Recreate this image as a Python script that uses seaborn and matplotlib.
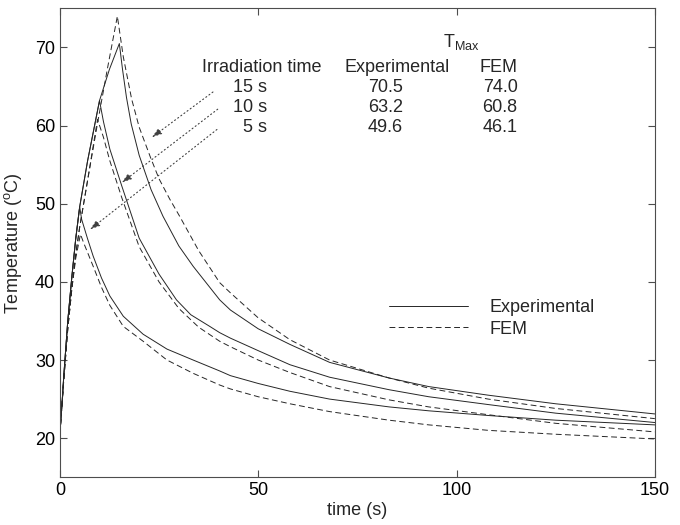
import matplotlib
matplotlib.use("Agg")
import matplotlib.pyplot as plt
import seaborn as sns
import pandas as pd

# experimental curves (time in s, temperature in oC)
t_exp15 = [0, 0.5, 1, 2, 3, 4, 5, 7, 10, 12.5, 15, 15.8, 16.8, 18, 20, 23, 26, 30, 33.6, 40.3, 43, 50, 58, 68, 83, 93, 108, 125, 150]
T_exp15 = [20.5, 24, 28, 35, 40.5, 45.5, 49.6, 55.5, 63.2, 67.2, 70.5, 67.2, 63.6, 60.2, 56.2, 51.8, 48.4, 44.6, 42.0, 37.7, 36.4, 34.0, 32.0, 29.7, 27.7, 26.6, 25.5, 24.4, 23.1]

t_exp10 = [0, 0.5, 1, 2, 3, 4, 5, 7, 10, 11, 12.6, 15.6, 20, 25, 29.4, 33, 37.8, 40.3, 43, 50, 58, 68, 83, 93, 108, 125, 150]
T_exp10 = [20.5, 24, 28, 35, 40.5, 45.5, 49.6, 55.5, 63.2, 60.5, 57.0, 52.3, 45.6, 41.0, 37.7, 35.8, 34.3, 33.5, 32.8, 31.2, 29.4, 27.8, 26.2, 25.3, 24.3, 23.2, 22.0]

t_exp5 = [0, 0.5, 1, 2, 3, 4, 5, 5.5, 7, 8.4, 10.5, 12.6, 16, 21, 27, 33.6, 40.3, 43, 50, 58, 68, 83, 93, 108, 125, 150]
T_exp5 = [20.5, 24, 28, 35, 40.5, 45.5, 49.6, 48.0, 45.5, 43.3, 40.5, 38.2, 35.6, 33.3, 31.4, 30.0, 28.6, 28.0, 27.0, 26.0, 25.0, 24.0, 23.5, 22.9, 22.3, 21.7]

# FEM curves
t_fem15 = [0, 1, 2, 3, 4, 5, 7, 9.5, 12, 14.5, 16, 18.1, 20, 22.8, 25, 27.7, 30.2, 35, 40.3, 43, 50, 58, 68, 83, 93, 108, 125, 150]
T_fem15 = [20.5, 27.5, 34, 39, 43.5, 47, 53, 60.3, 67.3, 74.0, 68.8, 63.4, 59.8, 56.0, 53.2, 50.6, 48.4, 44.0, 39.9, 38.6, 35.4, 32.6, 30.0, 27.7, 26.4, 25.0, 23.8, 22.5]

t_fem10 = [0, 1, 2, 3, 4, 5, 7, 9.5, 11, 12.6, 15.6, 20, 25, 30, 35, 40.3, 43, 50, 58, 68, 83, 93, 108, 125, 150]
T_fem10 = [20.5, 27.5, 34, 39, 43.5, 47, 53, 60.8, 58.5, 55.5, 50.8, 44.5, 40.0, 36.6, 34.2, 32.4, 31.7, 30.0, 28.4, 26.6, 24.9, 24.0, 23.0, 21.9, 20.8]

t_fem5 = [0, 1, 2, 3, 4, 5.2, 6, 8.4, 10.5, 12.6, 16, 21, 27, 33.6, 40.3, 43, 50, 58, 68, 83, 93, 108, 125, 150]
T_fem5 = [20.5, 27.5, 34, 39, 43, 46.1, 45.0, 42.0, 39.3, 37.0, 34.3, 32.4, 30.0, 28.3, 26.8, 26.3, 25.3, 24.4, 23.4, 22.3, 21.7, 21.0, 20.5, 19.9]

# table text
irr_labels = ["15 s", "10 s", "5 s"]
tmax_exp = ["70.5", "63.2", "49.6"]
tmax_fem = ["74.0", "60.8", "46.1"]

sns.set_style("ticks")
plt.rcParams['font.family'] = ['Liberation Sans', 'DejaVu Sans']
plt.rcParams['mathtext.default'] = 'regular'
plt.rcParams['xtick.direction'] = 'in'
plt.rcParams['ytick.direction'] = 'in'

fig = plt.figure(figsize=(6.8, 5.25), dpi=100)
ax = fig.add_axes([0.088, 0.091, 0.875, 0.893])

dash = (0, (6, 3.5))
curves = [
    (t_exp15, T_exp15, '-', 'Experimental'),
    (t_exp10, T_exp10, '-', None),
    (t_exp5, T_exp5, '-', None),
    (t_fem15, T_fem15, dash, 'FEM'),
    (t_fem10, T_fem10, dash, None),
    (t_fem5, T_fem5, dash, None),
]
for tt, TT, ls, lab in curves:
    df = pd.DataFrame({'t': tt, 'T': TT})
    sns.lineplot(data=df, x='t', y='T', ax=ax, color='0.15', lw=0.7,
                 linestyle=ls, sort=False, estimator=None, label=lab)

ax.set_xlim(0, 150)
ax.set_ylim(15, 75)
ax.set_xticks([0, 50, 100, 150])
ax.set_yticks([20, 30, 40, 50, 60, 70])
ax.tick_params(top=True, right=True, length=5, width=0.8, labelsize=13, colors='0.3', labelcolor='black')
for s in ax.spines.values():
    s.set_linewidth(0.8)
    s.set_color('0.3')
ax.set_xlabel('time (s)', fontsize=13, labelpad=2)
ax.set_ylabel('Temperature ($^{o}$C)', fontsize=13, labelpad=8)

# table of maximum temperatures
fs = 13
ax.text(96.5, 70.1, 'T$_{Max}$', fontsize=fs, va='baseline')
ax.text(35.8, 67.5, 'Irradiation time', fontsize=fs, va='center')
ax.text(71.8, 67.5, 'Experimental', fontsize=fs, va='center')
ax.text(105.9, 67.5, 'FEM', fontsize=fs, va='center')
rows_y = [64.9, 62.3, 59.7]
for y, a, b, c in zip(rows_y, irr_labels, tmax_exp, tmax_fem):
    ax.text(52.2, y, a, fontsize=fs, va='center', ha='right')
    ax.text(77.6, y, b, fontsize=fs, va='center', ha='left')
    ax.text(115.4, y, c, fontsize=fs, va='center', ha='right')

# dotted arrows to curves
arrows = [((38.6, 64.3), (23.2, 58.5)), ((39.8, 62.1), (15.6, 52.7)), ((39.6, 59.5), (7.6, 46.7))]
for start, end in arrows:
    ax.annotate('', xy=end, xytext=start,
                arrowprops=dict(arrowstyle='-|>,head_length=0.6,head_width=0.2',
                                linestyle=(0, (1, 2.5)), lw=0.8, color='0.25',
                                shrinkA=0, shrinkB=0))

ax.legend(loc='upper left', bbox_to_anchor=(0.553, 0.38), frameon=False,
          fontsize=13, handlelength=4.4, handletextpad=1.2, labelspacing=0.25,
          borderpad=0, borderaxespad=0)

fig.savefig('out.png', dpi=100)
